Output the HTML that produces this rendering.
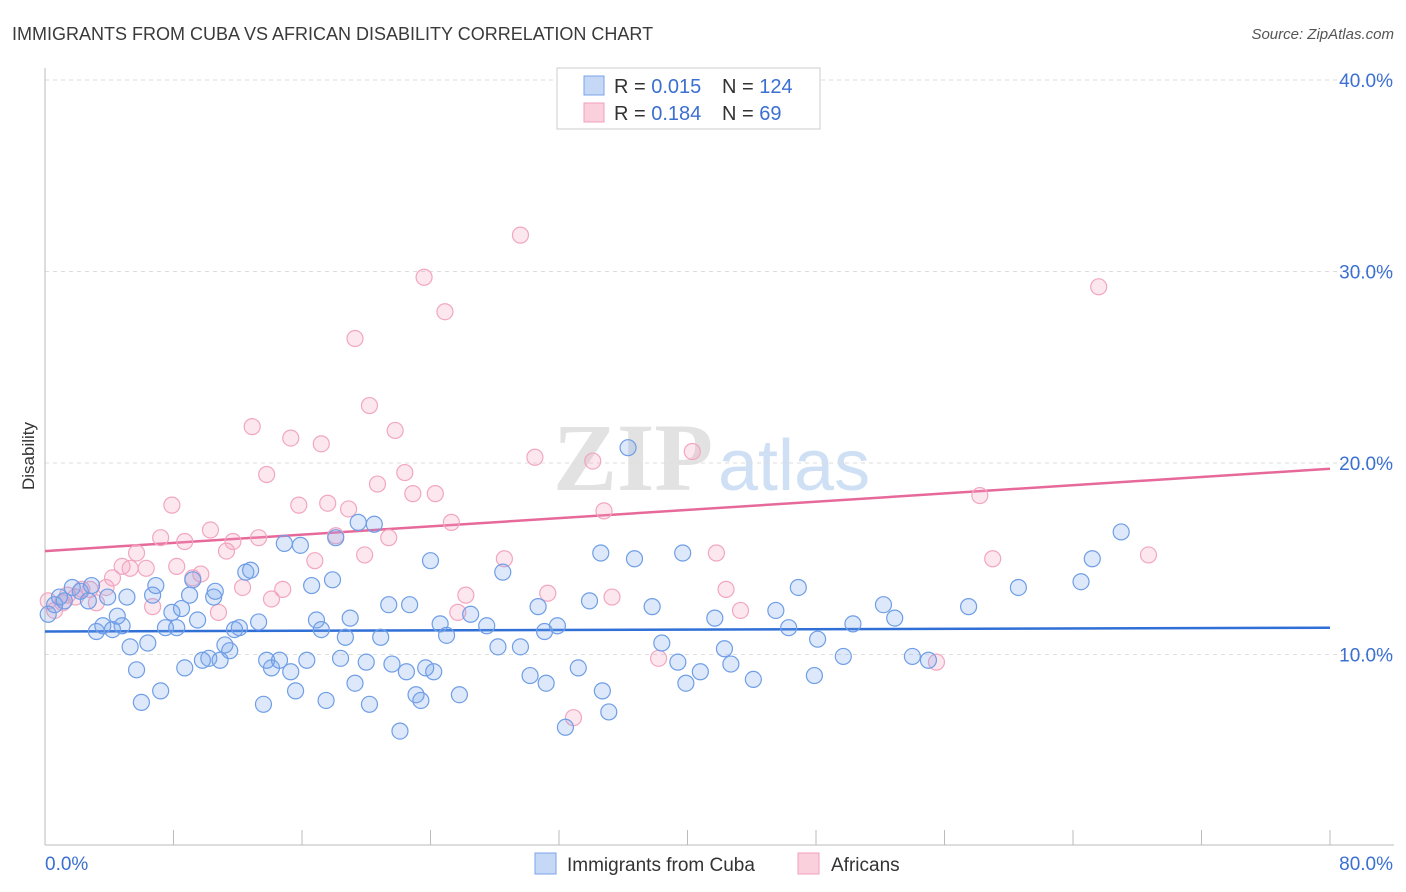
<!DOCTYPE html>
<html><head><meta charset="utf-8"><style>
html,body{margin:0;padding:0;background:#fff;}
svg{display:block;font-family:"Liberation Sans",sans-serif;}
</style></head><body>
<svg id="chart" width="1406" height="892" viewBox="0 0 1406 892" xmlns="http://www.w3.org/2000/svg">
<text x="12" y="40" font-size="18" fill="#3a3a3a">IMMIGRANTS FROM CUBA VS AFRICAN DISABILITY CORRELATION CHART</text>
<text x="1394" y="39" font-size="15" fill="#555" text-anchor="end" font-style="italic">Source: ZipAtlas.com</text>
<g>
<text x="553" y="490" font-size="96" font-family="Liberation Serif,serif" fill="#e2e2e2" font-weight="bold">ZIP</text>
<text x="718" y="490" font-size="72" fill="#cfe0f5">atlas</text>
</g>
<g id="grid"></g>
<g id="axes"></g>
<g id="trend"></g>
<g id="pts"></g>
<g>
<rect x="557" y="68" width="263" height="61" fill="#fff" stroke="#ccc"/>
<rect x="584" y="76" width="20" height="19" fill="#c5d9f7" stroke="#7aa3e8"/>
<rect x="584" y="103" width="20" height="19" fill="#fbd0dd" stroke="#f0a0bb"/>
<text x="614" y="93" font-size="20" fill="#333">R = <tspan fill="#3b6fd1">0.015</tspan></text>
<text x="722" y="93" font-size="20" fill="#333">N = <tspan fill="#3b6fd1">124</tspan></text>
<text x="614" y="120" font-size="20" fill="#333">R = <tspan fill="#3b6fd1">0.184</tspan></text>
<text x="722" y="120" font-size="20" fill="#333">N = <tspan fill="#3b6fd1"> 69</tspan></text>
</g>
<g>
<rect x="535" y="853" width="21" height="21" fill="#c5d9f7" stroke="#7aa3e8"/>
<text x="567" y="871" font-size="19" fill="#333">Immigrants from Cuba</text>
<rect x="798" y="853" width="21" height="21" fill="#fbd0dd" stroke="#f0a0bb"/>
<text x="831" y="871" font-size="19" fill="#333">Africans</text>
</g>
<text transform="translate(34,456) rotate(-90)" font-size="17" fill="#333" text-anchor="middle">Disability</text>
</svg>
<script>
const yTicks=[10,20,30,40];
const yTickLabels=["10.0%","20.0%","30.0%","40.0%"];
const xTickLabels=["0.0%","80.0%"];
const blueX=[0.2,0.6,0.9,1.2,1.7,2.2,2.7,2.9,3.2,3.6,3.9,4.2,4.5,4.8,5.1,5.3,5.7,6.0,6.4,6.7,6.9,7.2,7.5,7.9,8.2,8.5,8.7,9.0,9.2,9.5,9.8,10.2,10.5,10.6,10.9,11.2,11.5,11.8,12.1,12.5,12.8,13.3,13.6,13.8,14.1,14.6,14.9,15.3,15.6,15.9,16.3,16.6,16.9,17.2,17.5,17.9,18.1,18.4,18.7,19.0,19.3,19.5,20.0,20.2,20.5,20.9,21.4,21.6,22.1,22.5,22.7,23.1,23.4,23.7,24.0,24.2,24.6,25.0,25.8,26.5,27.5,28.2,28.5,29.6,30.2,30.7,31.1,31.2,31.9,32.4,33.2,33.9,34.6,34.7,35.1,36.3,36.7,37.8,38.4,39.4,39.7,39.9,40.8,41.7,42.3,42.7,44.1,45.5,46.3,46.9,48.1,47.9,49.7,50.3,52.2,52.9,54.0,55.0,57.5,60.6,64.5,65.2,67.0];
const blueY=[12.1,12.6,13.0,12.8,13.5,13.3,12.8,13.6,11.2,11.5,13.0,11.3,12.0,11.5,13.0,10.4,9.2,7.5,10.6,13.1,13.6,8.1,11.4,12.2,11.4,12.4,9.3,13.1,13.9,11.8,9.7,9.8,13.0,13.3,9.7,10.5,10.2,11.3,11.4,14.3,14.4,11.7,7.4,9.7,9.3,9.7,15.8,9.1,8.1,15.7,9.7,13.6,11.8,11.3,7.6,13.9,16.1,9.8,10.9,11.9,8.5,16.9,9.6,7.4,16.8,10.9,12.6,9.5,6.0,9.1,12.6,7.9,7.6,9.3,14.9,9.1,11.6,11.0,7.9,12.1,11.5,10.4,14.3,10.4,8.9,12.5,11.2,8.5,11.5,6.2,9.3,12.8,15.3,8.1,7.0,20.8,15.0,12.5,10.6,9.6,15.3,8.5,9.1,11.9,10.3,9.5,8.7,12.3,11.4,13.5,10.8,8.9,9.9,11.6,12.6,11.9,9.9,9.7,12.5,13.5,13.8,15.0,16.4];
const pinkX=[0.2,0.6,1.1,1.4,1.9,2.3,2.8,3.2,3.8,4.2,4.8,5.3,5.7,6.3,6.7,7.2,7.9,8.2,8.7,9.2,9.7,10.3,10.8,11.3,11.7,12.3,12.9,13.3,13.8,14.1,14.8,15.3,15.8,16.8,17.2,17.6,18.1,18.9,19.3,19.9,20.2,20.7,21.4,21.8,22.4,22.9,23.6,24.3,24.9,25.3,25.7,26.2,28.6,29.6,30.5,31.3,32.9,34.1,34.8,35.3,38.2,40.3,41.8,42.4,43.3,55.5,58.2,59.0,65.6,68.7];
const pinkY=[12.8,12.3,12.7,13.1,13.0,13.4,13.4,12.7,13.5,14.0,14.6,14.5,15.3,14.5,12.5,16.1,17.8,14.6,15.9,14.0,14.2,16.5,12.2,15.4,15.9,13.5,21.9,16.1,19.4,12.9,13.4,21.3,17.8,14.9,21.0,17.9,16.2,17.6,26.5,15.2,23.0,18.9,16.1,21.7,19.5,18.4,29.7,18.4,27.9,16.9,12.2,13.1,15.0,31.9,20.3,13.2,6.7,20.1,17.5,13.0,9.8,20.6,15.3,13.4,12.3,9.6,18.3,15.0,29.2,15.2];
const blueTrend=[11.2,11.4];
const pinkTrend=[15.4,19.7];
const xMax=80;

const NS="http://www.w3.org/2000/svg";
const X0=45,X1=1330,Y0=846,PXY=19.15;
const sx=v=>X0+v/xMax*(X1-X0);
const sy=v=>Y0-v*PXY;
function mk(tag,attrs,parent){const e=document.createElementNS(NS,tag);for(const k in attrs)e.setAttribute(k,attrs[k]);document.getElementById(parent).appendChild(e);return e;}

yTicks.forEach((t,i)=>{
  const l=mk('line',{x1:45,x2:1394,y1:sy(t),y2:sy(t),stroke:'#ddd','stroke-dasharray':'4,4'},'grid');
  
  
  const tx=mk('text',{x:1393,y:sy(t)+7,'font-size':19,fill:'#3b6fd1','text-anchor':'end'},'axes');
  tx.textContent=yTickLabels[i];
  
  
});
const ax=mk('line',{x1:45,x2:1394,y1:845,y2:845,stroke:'#bbb'},'axes');


const ay=mk('line',{x1:45,x2:45,y1:68,y2:845,stroke:'#bbb'},'axes');


for(let i=0;i<=10;i++){
  const t=mk('line',{x1:sx(i*8),x2:sx(i*8),y1:830,y2:845,stroke:'#bbb'},'axes');
  
  
}
const xl0=mk('text',{x:45,y:870,'font-size':19,fill:'#3b6fd1'},'axes');
xl0.textContent=xTickLabels[0];


const xl1=mk('text',{x:1393,y:870,'font-size':19,fill:'#3b6fd1','text-anchor':'end'},'axes');
xl1.textContent=xTickLabels[1];



pinkX.forEach((v,i)=>{
  const c=mk('circle',{cx:sx(v),cy:sy(pinkY[i]),r:8,fill:'rgba(244,160,190,0.25)',stroke:'#f2a6c0','stroke-width':1.2},'pts');
  
  
});
blueX.forEach((v,i)=>{
  const c=mk('circle',{cx:sx(v),cy:sy(blueY[i]),r:8,fill:'rgba(120,165,235,0.25)',stroke:'#6f9ee6','stroke-width':1.2},'pts');
  
  
});
const bt=mk('line',{x1:sx(0),x2:sx(xMax),y1:sy(blueTrend[0]),y2:sy(blueTrend[1]),stroke:'#2f6fd6','stroke-width':2.5},'trend');


const pt=mk('line',{x1:sx(0),x2:sx(xMax),y1:sy(pinkTrend[0]),y2:sy(pinkTrend[1]),stroke:'#e6699a','stroke-width':2.5},'trend');


</script>
</body></html>
